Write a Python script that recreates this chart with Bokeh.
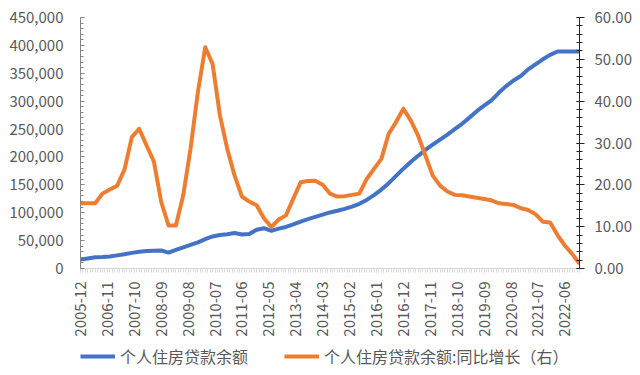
import math
from bokeh.plotting import figure
from bokeh.layouts import column
from bokeh.models import (Range1d, LinearAxis, FixedTicker, NumeralTickFormatter,
                          Legend, LegendItem, ColumnDataSource)
from bokeh.embed import file_html
from bokeh.resources import INLINE

quarters = [
    "2005-12",
    "2006-03", "2006-06", "2006-09", "2006-12",
    "2007-03", "2007-06", "2007-09", "2007-12",
    "2008-03", "2008-06", "2008-09", "2008-12",
    "2009-03", "2009-06", "2009-09", "2009-12",
    "2010-03", "2010-06", "2010-09", "2010-12",
    "2011-03", "2011-06", "2011-09", "2011-12",
    "2012-03", "2012-06", "2012-09", "2012-12",
    "2013-03", "2013-06", "2013-09", "2013-12",
    "2014-03", "2014-06", "2014-09", "2014-12",
    "2015-03", "2015-06", "2015-09", "2015-12",
    "2016-03", "2016-06", "2016-09", "2016-12",
    "2017-03", "2017-06", "2017-09", "2017-12",
    "2018-03", "2018-06", "2018-09", "2018-12",
    "2019-03", "2019-06", "2019-09", "2019-12",
    "2020-03", "2020-06", "2020-09", "2020-12",
    "2021-03", "2021-06", "2021-09", "2021-12",
    "2022-03", "2022-06", "2022-09", "2022-12",
]

balance = [
    16000, 18000, 20000, 20500, 21500, 23500, 25500, 28000, 30000, 31500,
    32000, 32300, 28500, 33500, 38000, 42500, 47000, 52500, 57500, 60000,
    61500, 63500, 61000, 62000, 69500, 72300, 67600, 71500, 74500, 79000,
    84000, 88500, 92500, 96500, 100500, 103500, 107000, 111000, 116000, 123000,
    131500, 141500, 153000, 166000, 179000, 191000, 202000, 212500, 222000, 231000,
    240000, 250000, 259500, 270500, 282000, 292000, 301500, 315000, 327000, 337000,
    345000, 357000, 366000, 375000, 383000, 389000, 389000, 389000, 389000,
]

yoy = [
    15.6, 15.6, 15.6, 17.9, 18.9, 19.8, 23.7, 31.4, 33.4, 29.4,
    25.6, 15.9, 10.3, 10.3, 17.5, 28.7, 42.2, 52.9, 48.9, 36.6,
    28.6, 22.2, 17.2, 16.0, 15.1, 12.0, 9.9, 11.7, 12.7, 16.7,
    20.6, 20.9, 21.0, 20.0, 17.9, 17.2, 17.3, 17.6, 17.9, 21.4,
    23.8, 26.2, 32.2, 35.0, 38.2, 35.4, 31.8, 27.0, 22.2, 19.8,
    18.4, 17.6, 17.5, 17.2, 16.9, 16.6, 16.3, 15.6, 15.4, 15.2,
    14.4, 14.0, 13.0, 11.2, 11.0, 8.0, 5.5, 3.5, 1.1,
]

tick_labels = ["2005-12", "2006-11", "2007-10", "2008-09", "2009-08", "2010-07",
               "2011-06", "2012-05", "2013-04", "2014-03", "2015-02", "2016-01",
               "2016-12", "2017-11", "2018-10", "2019-09", "2020-08", "2021-07",
               "2022-06"]

left_ticks = [0, 50000, 100000, 150000, 200000, 250000, 300000, 350000, 400000, 450000]
right_ticks = [0, 10, 20, 30, 40, 50, 60]

series_names = ["个人住房贷款余额", "个人住房贷款余额:同比增长（右）"]
series_colors = ["#4472C4", "#ED7D31"]


def month_index(s):
    y, m = map(int, s.split("-"))
    return (y - 2005) * 12 + (m - 12)


xs = [month_index(q) for q in quarters]
src = ColumnDataSource(dict(x=xs, bal=balance, yoy=yoy))

FONT = "Noto Sans CJK SC"
GREY = "#595959"

p = figure(width=640, height=340,
           x_range=Range1d(0, month_index(quarters[-1])),
           y_range=Range1d(0, 450000),
           output_backend="svg", toolbar_location=None,
           min_border_left=80, min_border_right=61,
           min_border_top=17, min_border_bottom=72)
p.extra_y_ranges = {"r": Range1d(0, 60)}
p.outline_line_color = None
p.xgrid.visible = False
p.ygrid.visible = False
p.background_fill_color = "white"
p.border_fill_color = "white"

# x axis
tick_pos = [month_index(t) for t in tick_labels]
xa = p.xaxis[0]
xa.ticker = FixedTicker(ticks=tick_pos,
                        minor_ticks=list(range(0, month_index(quarters[-1]) + 1)))
xa.major_label_overrides = {pos: lab for pos, lab in zip(tick_pos, tick_labels)}
xa.major_label_orientation = math.pi / 2
xa.axis_line_color = "#d9d9d9"
xa.major_tick_line_color = "#d9d9d9"
xa.minor_tick_line_color = "#d9d9d9"
xa.major_tick_in = 0
xa.major_tick_out = 4
xa.minor_tick_in = 0
xa.minor_tick_out = 4
xa.major_label_standoff = 9
xa.major_label_text_font = FONT
xa.major_label_text_font_size = "15px"
xa.major_label_text_color = GREY

# left axis
ya = p.yaxis[0]
ya.ticker = FixedTicker(ticks=left_ticks, minor_ticks=list(range(0, 450001, 10000)))
ya.formatter = NumeralTickFormatter(format="0,0")
ya.axis_line_color = "#868686"
ya.major_tick_line_color = "#868686"
ya.minor_tick_line_color = "#868686"
ya.major_tick_in = 4
ya.major_tick_out = 0
ya.minor_tick_in = 3
ya.minor_tick_out = 0
ya.major_label_standoff = 17
ya.major_label_text_font = FONT
ya.major_label_text_font_size = "15px"
ya.major_label_text_color = GREY

# right axis
ra = LinearAxis(y_range_name="r")
ra.ticker = FixedTicker(ticks=right_ticks, minor_ticks=list(range(0, 61, 2)))
ra.formatter = NumeralTickFormatter(format="0.00")
ra.axis_line_color = "#262626"
ra.major_tick_line_color = "#262626"
ra.minor_tick_line_color = "#262626"
ra.major_tick_in = 3
ra.major_tick_out = 5
ra.minor_tick_in = 3
ra.minor_tick_out = 3
ra.major_label_standoff = 10
ra.major_label_text_font = FONT
ra.major_label_text_font_size = "15px"
ra.major_label_text_color = GREY
p.add_layout(ra, "right")

p.line("x", "bal", source=src, line_color=series_colors[0], line_width=4,
       line_join="round")
p.line("x", "yoy", source=src, y_range_name="r", line_color=series_colors[1],
       line_width=4, line_join="round")

# legend strip below the chart (its frame is aligned with the chart's frame)
lg = figure(width=640, height=35, x_range=Range1d(0, 10), y_range=Range1d(0, 10),
            x_axis_type=None, y_axis_type=None, min_border=0,
            output_backend="svg", toolbar_location=None)
lg.outline_line_color = None
lg.xgrid.visible = False
lg.ygrid.visible = False
lg.background_fill_alpha = 0
lg.border_fill_alpha = 0
d1 = lg.line(x=[-20, -10], y=[-20, -20], line_color=series_colors[0], line_width=4)
d2 = lg.line(x=[-20, -10], y=[-20, -20], line_color=series_colors[1], line_width=4)
legend = Legend(items=[LegendItem(label=series_names[0], renderers=[d1]),
                       LegendItem(label=series_names[1], renderers=[d2])],
                location=(0, 7), orientation="horizontal",
                glyph_width=35, glyph_height=20, label_height=20,
                label_standoff=5, spacing=36, padding=0, margin=0,
                border_line_color=None, background_fill_alpha=0,
                label_text_font=FONT, label_text_font_size="16px",
                label_text_color=GREY)
lg.add_layout(legend)

layout = column(p, lg, spacing=0)
open("out.html", "w").write(file_html(layout, INLINE))
